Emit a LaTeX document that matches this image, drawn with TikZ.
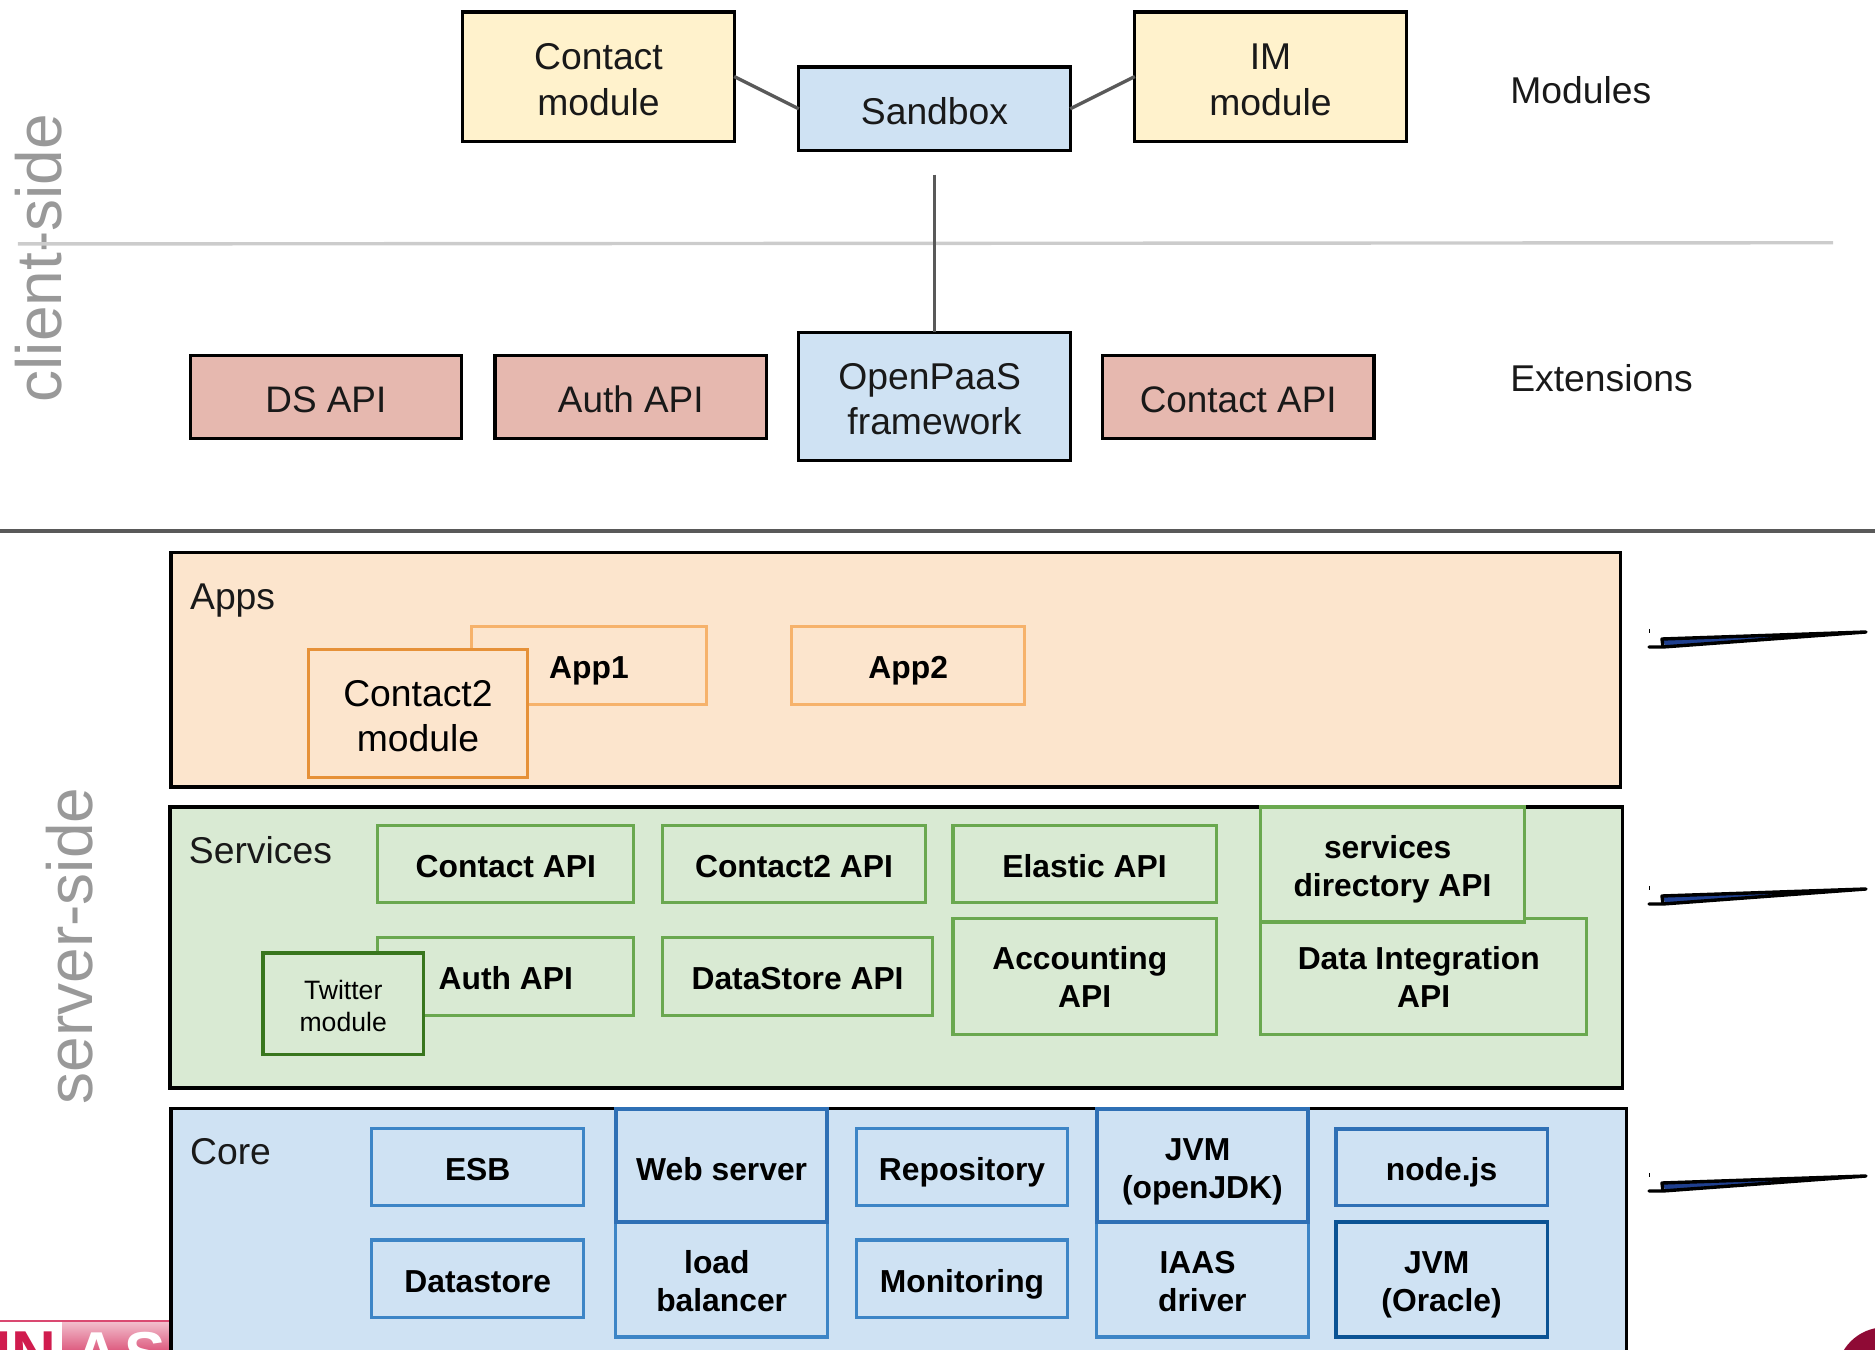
\documentclass[tikz,border=0pt]{standalone}
\usepackage{fontspec}
\setmainfont{Liberation Sans}
\definecolor{cyellow}{HTML}{FFF2CC}
\definecolor{cblue}{HTML}{CFE2F3}
\definecolor{cred}{HTML}{E6B8AF}
\definecolor{corange}{HTML}{FCE5CD}
\definecolor{cgreen}{HTML}{D9EAD3}
\definecolor{cOr}{HTML}{F6B26B}
\definecolor{cOrD}{HTML}{E69138}
\definecolor{cGr}{HTML}{6AA84F}
\definecolor{cGrD}{HTML}{38761D}
\definecolor{cBl}{HTML}{3D85C6}
\definecolor{cBlD}{HTML}{0B5394}
\definecolor{cBlM}{HTML}{2F70B5}
\definecolor{cSide}{HTML}{999999}
\definecolor{cConn}{HTML}{595959}
\definecolor{cScr}{HTML}{1F3F8F}
\definecolor{cLogo}{HTML}{8F0A35}
\definecolor{cCrim}{HTML}{D01C4E}
\newcommand{\myu}{0.5979pt}
\newdimen\myud \myud=0.5979pt
% box: [extra]{style}{x1}{y1}{x2}{y2}{text drop}{text}
\newcommand{\bx}[8][]{\node[#2,#1,minimum width={(#5-#3)*\myu},minimum height={(#6-#4)*\myu}] at ({(#3+#5)/2},{(#4+#6)/2}) {\raisebox{-#7\myud}[\height][\depth]{\begin{tabular}{@{}c@{}}#8\end{tabular}}};}
\newcommand{\fl}{\hspace*{4.8pt}}
\tikzset{
  x=0.5979pt,y=-0.5979pt,
  base/.style={draw,rectangle,inner sep=0pt,outer sep=0pt,align=center},
  top/.style={base,draw=black,line width=1.6pt,text=black!90,font=\fontsize{18.65}{22.7}\selectfont},
  yel/.style={top,fill=cyellow},
  blu/.style={top,fill=cblue},
  rd/.style={top,fill=cred,font=\fontsize{18.45}{22.7}\selectfont},
  layer/.style={base,draw=black,line width=1.7pt},
  inbox/.style={base,line width=1.6pt,font=\bfseries\fontsize{15.9}{19}\selectfont},
  orA/.style={inbox,draw=cOr,fill=corange},
  grA/.style={inbox,draw=cGr,fill=cgreen},
  grB/.style={inbox,draw=cGrD,fill=cgreen,line width=1.7pt},
  blA/.style={inbox,draw=cBl,fill=cblue},
  blB/.style={inbox,draw=cBlD,fill=cblue,line width=1.8pt},
  plain/.style={inner sep=0pt,outer sep=0pt,text=black!90,font=\fontsize{18.65}{22.7}\selectfont},
  side/.style={inner sep=0pt,outer sep=0pt,rotate=90,text=cSide,font=\fontsize{32}{36}\selectfont},
  logo/.style={inner sep=0pt,outer sep=0pt,font=\bfseries\fontsize{31}{31}\selectfont},
  conn/.style={draw=cConn,line width=1.7pt},
  sep/.style={line width=1.7pt},
  scrib/.style={draw=black,line width=1.7pt,line cap=round,line join=round},
}
\begin{document}
\begin{tikzpicture}
\useasboundingbox (0,0) rectangle (1568,1128.2);
\clip (0,0) rectangle (1568,1128.2);
% logo fragment and corner mark
\fill[white] (0,1105) rectangle (52,1128.2);
\shade[top color=cCrim!28,bottom color=cCrim!70,draw=none] (52,1105) rectangle (143,1128.2);
\draw[cCrim!80,line width=1.2pt] (0,1104.5) -- (143,1104.5);
\node[logo,anchor=north east,text=cCrim] (logoA) at (47,1114) {IN};
\node[logo,anchor=north west,text=white] (logoB) at (62,1114) {A\kern3pt S};
\fill[cLogo] (1576,1150) circle (40);
% side labels
\node[side] (client) at (32,216) {client-side};
\node[side] (server) at (58,791) {server-side};
% separators
\coordinate (s1a) at (15,204);
\coordinate (s1b) at (1533,203);
\coordinate (s2a) at (0,444);
\coordinate (s2b) at (1568,444);
\draw[sep,draw=black!20] (s1a) -- (s1b);
\draw[sep,draw=cConn] (s2a) -- (s2b);
% client side
\bx{yel,name=cm}{387}{10}{614}{118}{5.6}{Contact\\module}
\bx{blu,name=sb}{668}{56}{895}{126}{5.6}{Sandbox}
\bx{yel,name=im}{949}{10}{1176}{118}{5.6}{IM\\module}
\bx{rd,name=ds}{159}{297}{386}{367}{5.6}{DS API}
\bx{rd,name=au}{414}{297}{641}{367}{5.6}{Auth API}
\bx{blu,name=op}{668}{278}{895}{385}{5.6}{OpenPaaS\fl\\framework}
\bx{rd,name=ca}{922}{297}{1149}{367}{5.6}{Contact API}
\node[plain,anchor=west] (mods) at (1263,75) {Modules};
\node[plain,anchor=west] (exts) at (1263,316) {Extensions};
\coordinate (fw) at (781.5,146);
\draw[conn] (cm.east) -- (sb.west);
\draw[conn] (sb.east) -- (im.west);
\draw[conn] (fw) -- (op.north);
% Apps
\bx{layer,fill=corange,name=apps}{143}{462}{1355}{658}{0}{}
\node[plain,anchor=west] (appst) at (159,502) {Apps};
\bx{orA,name=app1}{394}{524}{591}{589}{4.7}{App1}
\bx{orA,name=app2}{662}{524}{857}{589}{4.7}{App2}
\bx{base,draw=cOrD,fill=corange,line width=1.7pt,font=\fontsize{18.65}{22.7}\selectfont,name=c2m}{258}{543}{441}{650}{5.6}{Contact2\\module}
% Services
\bx{layer,fill=cgreen,name=svc}{142}{675}{1357}{910}{0}{}
\node[plain,anchor=west] (svct) at (158,711) {Services};
\bx{grA,name=s1}{316}{690}{530}{755}{4.7}{Contact API}
\bx{grA,name=s2}{554}{690}{774}{755}{4.7}{Contact2 API}
\bx{grA,name=s3}{797}{690}{1017}{755}{4.7}{Elastic API}
\bx{grA,name=s5}{316}{784}{530}{849}{4.7}{Auth API}
\bx{grA,name=s6}{554}{784}{780}{849}{4.7}{DataStore API}
\bx{grA,name=s7}{797}{768}{1017}{865}{4.2}{Accounting\fl\\API}
\bx{grA,name=s8}{1054}{768}{1327}{865}{4.2}{Data Integration\fl\\API}
\bx{grA,line width=1.8pt,name=s4}{1054}{675}{1275}{771}{4.2}{services\fl\\directory API}
\bx{grB,font=\fontsize{13.3}{16}\selectfont,name=s9}{220}{797}{354}{882}{4.6}{Twitter\\module}
% Core
\bx{layer,fill=cblue,name=core}{143}{927}{1360}{1240}{0}{}
\node[plain,anchor=west] (coret) at (159,963) {Core};
\bx{blA,name=k1}{311}{944}{488}{1008}{5.2}{ESB}
\bx{blA,name=k3}{716}{944}{893}{1008}{5.2}{Repository}
\bx{blA,name=k6}{311}{1037}{488}{1102}{4.7}{Datastore}
\bx{blA,name=k8}{716}{1037}{893}{1102}{4.7}{Monitoring}
\bx{blA,name=k7}{515}{1022}{692}{1118}{4.2}{load\fl\\balancer}
\bx{blA,name=k9}{917}{1022}{1094}{1118}{4.2}{IAAS\fl\\driver}
\bx{blA,draw=cBlM,line width=2pt,name=k2}{515}{927}{692}{1022}{6.7}{Web server}
\bx{blA,draw=cBlM,line width=2pt,name=k4}{917}{927}{1094}{1022}{5.7}{JVM\fl\\(openJDK)}
\bx{blA,draw=cBlM,line width=1.8pt,name=k5}{1117}{944}{1294}{1008}{5.2}{node.js}
\bx{blB,name=k10}{1117}{1022}{1294}{1118}{4.2}{JVM\fl\\(Oracle)}
% scribbles at the right margin
\foreach \dy in {0,257,544}{
\begin{scope}[x=0.5pt,y=-0.5pt,yshift=-\dy*0.5pt]
\fill[cScr] (1663,639) -- (1866,632) -- (1665,646) -- cycle;
\draw[scrib] (1663,647) -- (1662,639) -- (1866,632) -- (1663,647) -- (1649,647);
\draw[black,line width=0.3pt] (1649.5,629) -- (1649.5,633);
\end{scope}}
\end{tikzpicture}
\end{document}
